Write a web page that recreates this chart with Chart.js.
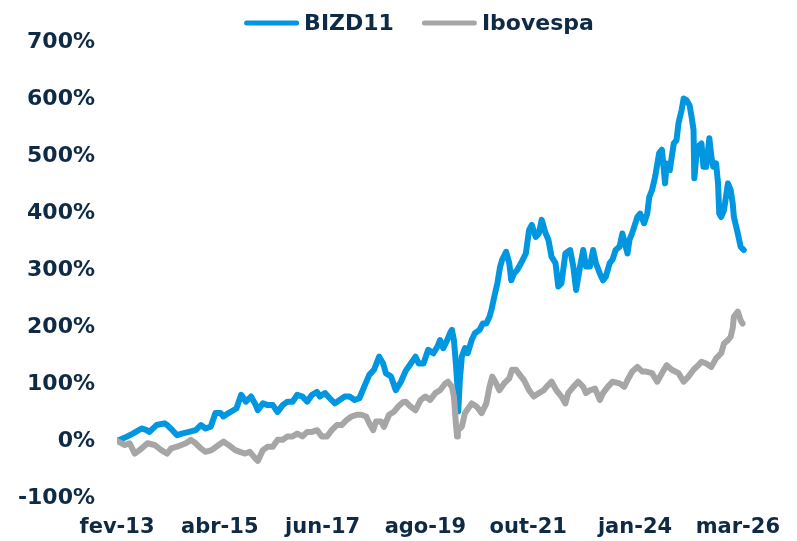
<!DOCTYPE html>
<html><head><meta charset="utf-8">
<script src="https://cdn.jsdelivr.net/npm/chart.js@4"></script>
<style>html,body{margin:0;padding:0;background:#fff}#wrap{width:797px;height:541px}</style>
</head><body><div id="wrap"><canvas id="c" width="797" height="541"></canvas></div>
<script>
// x = months since fev-13
const tickMonths = [0, 26, 52, 78, 104, 131, 157];
const tickLabels = ['fev-13', 'abr-15', 'jun-17', 'ago-19', 'out-21', 'jan-24', 'mar-26'];
const seriesNames = ['BIZD11', 'Ibovespa'];

const bizdMonths = [0,2,4,6.2,7.5,8.2,10,12,12.7,14,
15.2,16.4,18.2,19.9,21.2,22.4,23.7,24.9,26.2,26.9,
28.2,30.2,31.4,32.6,33.9,35.1,35.6,36.9,38.1,39.4,
40.6,41.9,43.1,44.4,45.6,46.9,48.1,49.3,50.6,51.3,
52.6,53.8,55.1,56.3,57.6,58.8,60.1,61.3,62.5,63.8,
65,66.3,67.3,68,69.3,70.5,71.8,73,74.3,75.5,
76.3,77.5,78.7,80,81,81.7,82.5,83.5,84.2,84.7,
85.2,85.7,86.1,86.3,86.7,87.2,88,88.7,89.7,90.5,
91.7,92.5,93.4,94.2,94.7,95.4,96.2,96.9,97.4,98.4,
99.2,99.7,100.4,101.2,102.4,103.4,104.2,104.9,105.9,106.7,
107.4,108.4,109.1,109.9,110.9,111.6,112.4,113.4,114.6,115.4,
116.1,117.1,117.9,118.6,119.6,120.4,121.1,122.1,122.9,123.6,
124.6,125.3,126.1,127.1,127.8,129.1,129.6,130.3,131.6,132.3,
133.3,134.1,134.6,135.3,136.1,137.1,137.8,138.3,138.6,139,
139.8,140.3,140.8,141.5,142,142.8,143.3,144,144.8,145.3,
145.8,146,146.5,147,147.8,148.3,149,149.8,150.3,150.8,
151.5,152,152.3,152.8,153.5,154.5,155.2,155.7,156,157,
157.7,158.5];
const bizdValues = [0,6,13,22,19,16,28,31,28,19,
10,13,16,19,28,22,25,49,49,43,
49,57,81,69,78,63,54,66,63,63,
51,63,69,69,81,78,69,81,86,78,
84,75,66,72,78,78,72,75,95,116,
125,148,136,119,113,89,104,123,136,148,
136,136,160,154,165,177,163,177,189,195,
177,136,95,52,107,148,163,154,177,189,
195,206,206,218,230,253,277,306,318,332,
312,282,294,300,315,329,370,379,358,364,
388,364,353,323,312,271,277,329,335,306,
265,306,335,306,306,335,312,294,282,288,
312,318,335,341,364,329,353,365,393,399,
382,399,428,440,464,505,511,475,452,487,
475,499,522,528,558,581,601,598,589,569,
546,461,499,517,522,481,481,531,499,481,
487,452,399,393,405,452,440,417,393,364,
341,335];

const ibovMonths = [0,2,3.2,4.5,5.7,7.7,9.5,11.2,12.7,13.7,
15.2,17.4,18.7,19.9,21.2,22.4,23.9,25.7,26.9,28.2,
29.9,31.1,32.4,33.6,34.9,35.6,36.9,38.1,39.4,40.6,
41.9,43.1,44.4,45.6,46.9,48.1,49.3,50.6,51.8,53.1,
54.3,55.6,56.8,58.1,59.3,60.6,61.8,63,63.8,64.8,
65.5,66.8,67.5,68.8,70,71.3,72.3,73,74.3,75.5,
76.8,78,79.2,80.5,81.7,83,83.7,84.7,85.2,85.7,
86,86.2,87.2,88,89.7,91,92.2,93.4,94.2,94.9,
95.9,96.7,97.9,99.2,99.9,100.9,102.2,102.9,104.2,105.4,
106.7,107.9,108.6,109.9,111.1,112.4,113.4,114.1,115.4,116.6,
117.9,118.6,119.6,120.9,122.1,122.9,124.1,125.3,127.1,128.3,
129.1,130.3,131.6,132.8,133.6,135.3,136.6,137.8,139,140.3,
142,143.3,144.5,145.8,147,147.8,149,150.3,151.5,152.8,
153.5,154.5,155.2,155.7,156,157,157.7,158.2];
const ibovValues = [0,-7,-4,-22,-16,-4,-7,-16,-22,-13,
-10,-4,2,-4,-13,-19,-16,-7,-1,-7,
-16,-19,-22,-19,-30,-35,-16,-10,-10,2,
2,8,8,13,8,16,16,19,8,8,
19,28,28,37,43,46,46,43,31,19,
34,34,25,46,51,62,68,69,60,54,
72,78,72,84,89,101,104,95,78,31,
8,19,25,49,66,60,49,66,95,113,
101,89,101,110,125,125,113,107,89,78,
84,89,95,104,89,78,66,84,95,104,
95,84,89,92,72,84,95,104,101,95,
107,122,130,122,122,119,104,119,133,125,
119,104,113,125,133,139,136,130,145,154,
171,177,183,198,218,227,212,206];

const BLUE = '#0096E0';
const GRAY = '#A6A6A6';
const TEXT = '#0E2A45';
const FONT = "'DejaVu Sans', sans-serif";

const customLegend = {
  id: 'customLegend',
  afterDraw(chart) {
    const ctx = chart.ctx;
    const colors = chart.data.datasets.map(d => d.borderColor);
    ctx.save();
    ctx.font = "bold 22px " + FONT;
    const sample = 55, gap = 5, spacing = 28;
    const widths = seriesNames.map(t => ctx.measureText(t).width);
    let total = 0;
    widths.forEach((w, i) => { total += sample + gap + w + (i ? spacing : 0); });
    let x = 419 - total / 2;
    const y = 23;
    seriesNames.forEach((t, i) => {
      ctx.strokeStyle = colors[i];
      ctx.lineWidth = 5;
      ctx.lineCap = 'round';
      ctx.beginPath();
      ctx.moveTo(x + 2.5, y);
      ctx.lineTo(x + sample - 2.5, y);
      ctx.stroke();
      ctx.fillStyle = TEXT;
      ctx.textBaseline = 'middle';
      ctx.textAlign = 'left';
      ctx.fillText(t, x + sample + gap, y + 1);
      x += sample + gap + widths[i] + spacing;
    });
    ctx.restore();
  }
};

new Chart(document.getElementById('c'), {
  type: 'line',
  data: {
    datasets: [
      { label: seriesNames[0], data: bizdMonths.map((m, i) => ({ x: m, y: bizdValues[i] })),
        borderColor: BLUE, backgroundColor: BLUE, borderWidth: 6, order: 1 },
      { label: seriesNames[1], data: ibovMonths.map((m, i) => ({ x: m, y: ibovValues[i] })),
        borderColor: GRAY, backgroundColor: GRAY, borderWidth: 6, order: 0 }
    ]
  },
  options: {
    responsive: false,
    animation: false,
    layout: { padding: { left: 0, right: 0, top: 42, bottom: 0 } },
    elements: {
      point: { radius: 0, hoverRadius: 0 },
      line: { tension: 0, borderJoinStyle: 'round', borderCapStyle: 'round' }
    },
    plugins: { legend: { display: false }, tooltip: { enabled: false } },
    scales: {
      x: {
        type: 'linear', min: 0, max: 167.5,
        grid: { display: false, drawTicks: false },
        border: { display: false },
        afterBuildTicks: s => { s.ticks = tickMonths.map(v => ({ value: v })); },
        afterFit: s => { s.height = 43; },
        ticks: {
          autoSkip: false, maxRotation: 0, padding: 17,
          color: TEXT, font: { family: FONT, size: 21, weight: 'bold' },
          callback: v => tickLabels[tickMonths.indexOf(v)]
        }
      },
      y: {
        min: -100, max: 700,
        grid: { display: false, drawTicks: false },
        border: { display: false },
        afterFit: s => { s.width = 117; },
        ticks: {
          stepSize: 100, padding: 22,
          color: TEXT, font: { family: FONT, size: 22, weight: 'bold' },
          callback: v => v + '%'
        }
      }
    }
  },
  plugins: [customLegend]
});
</script>
</body></html>
